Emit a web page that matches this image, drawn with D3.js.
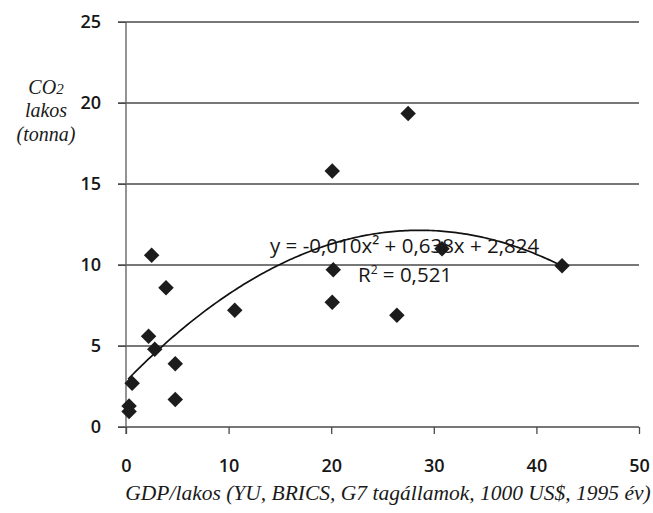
<!DOCTYPE html>
<html>
<head>
<meta charset="utf-8">
<script src="https://cdnjs.cloudflare.com/ajax/libs/d3/7.8.5/d3.min.js"></script>
<style>
  html, body { margin: 0; padding: 0; background: #fff; }
  svg { display: block; }
</style>
</head>
<body>
<script>
// ---- data ----
const gdp = [0.3, 0.3, 0.6, 2.2, 2.8, 2.5, 3.9, 4.8, 4.8, 10.6, 20.1, 20.2, 20.1, 26.4, 27.5, 30.8, 42.5];
const co2 = [0.95, 1.3, 2.7, 5.6, 4.8, 10.6, 8.6, 3.9, 1.7, 7.2, 15.8, 9.7, 7.7, 6.9, 19.35, 11.0, 9.95];
const xTicks = [0, 10, 20, 30, 40, 50];
const yTicks = [0, 5, 10, 15, 20, 25];
// polynomial trendline (as drawn): c0 + c1*x + c2*x^2
const trendCoefs = [2.82, 0.652, -0.0114];
const trendRange = [0.2, 42.5];
const eqLabel = "y = -0,010x² + 0,638x + 2,824";
const r2Label = ["R", "2", " = 0,521"];
const xTitle = "GDP/lakos (YU, BRICS, G7 tagállamok, 1000 US$, 1995 év)";
const yTitleLines = ["lakos", "(tonna)"];

// ---- layout ----
const W = 653, H = 513;
const svg = d3.select("body").append("svg").attr("width", W).attr("height", H);

const x = d3.scaleLinear().domain([0, 50]).range([126, 639]);
const y = d3.scaleLinear().domain([0, 25]).range([427, 22]);

const gridColor = "#4a4a4a";
const labelFont = "'Open Sans', sans-serif";

// horizontal gridlines (extend a little left of the axis)
svg.append("g").selectAll("line").data(yTicks).join("line")
  .attr("x1", x(0) - 8).attr("x2", x(50))
  .attr("y1", d => y(d)).attr("y2", d => y(d))
  .attr("stroke", gridColor).attr("stroke-width", 1.4);

// left axis
const yAxis = d3.axisLeft(y).tickValues(yTicks).tickSize(8).tickPadding(17).tickFormat(d3.format("d"));
const gy = svg.append("g").attr("transform", `translate(${x(0)},0)`).call(yAxis);
gy.select(".domain").attr("stroke", "#666").attr("stroke-width", 1.4).attr("d", `M0,${y(25)}V${y(0)+7}`);
gy.selectAll(".tick line").attr("stroke", gridColor);
gy.selectAll("text").attr("font-family", labelFont).attr("font-size", 18).attr("font-weight", 600).attr("fill", "#161616");

// bottom axis
const xAxis = d3.axisBottom(x).tickValues(xTicks).tickSize(7).tickPadding(25).tickFormat(d3.format("d"));
const gx = svg.append("g").attr("transform", `translate(0,${y(0)})`).call(xAxis);
gx.select(".domain").remove();
gx.selectAll(".tick line").attr("stroke", gridColor).attr("stroke-width", 1.3);
gx.selectAll("text").attr("font-family", labelFont).attr("font-size", 18).attr("font-weight", 600).attr("fill", "#161616");

// trendline
const trendX = d3.range(trendRange[0], trendRange[1] + 0.001, 0.25);
const trend = trendX.map(v => [v, trendCoefs[0] + trendCoefs[1] * v + trendCoefs[2] * v * v]);
svg.append("path")
  .datum(trend)
  .attr("d", d3.line().x(d => x(d[0])).y(d => y(d[1])).curve(d3.curveBasis))
  .attr("fill", "none").attr("stroke", "#111").attr("stroke-width", 1.7);

// points
const pts = gdp.map((g, i) => ({ g, c: co2[i] }));
svg.append("g").selectAll("path").data(pts).join("path")
  .attr("d", d3.symbol(d3.symbolSquare, 120)())
  .attr("transform", d => `translate(${x(d.g)},${y(d.c)}) rotate(45)`)
  .attr("fill", "#1c1c1c");

// equation labels
svg.append("text").attr("x", 270).attr("y", 253)
  .attr("font-family", labelFont).attr("font-size", 20.5).attr("fill", "#161616")
  .text(eqLabel);
const r2 = svg.append("text").attr("x", 358).attr("y", 282)
  .attr("font-family", labelFont).attr("font-size", 20.5).attr("fill", "#161616");
r2.append("tspan").text(r2Label[0]);
r2.append("tspan").attr("font-size", 12).attr("dy", -8).text(r2Label[1]);
r2.append("tspan").attr("dy", 8).text(r2Label[2]);

// axis titles
const serif = "'Liberation Serif', 'Times New Roman', serif";
svg.append("text").attr("x", 388).attr("y", 500).attr("text-anchor", "middle")
  .attr("font-family", serif).attr("font-style", "italic").attr("font-size", 21.5).attr("fill", "#1a1a1a")
  .text(xTitle);

const yt = svg.append("text").attr("x", 46).attr("y", 94).attr("text-anchor", "middle")
  .attr("font-family", serif).attr("font-style", "italic").attr("font-size", 20).attr("fill", "#1a1a1a");
yt.append("tspan").text("CO");
yt.append("tspan").attr("font-size", 15).text("2");
yTitleLines.forEach((t, i) => {
  svg.append("text").attr("x", 46).attr("y", 117 + i * 24).attr("text-anchor", "middle")
    .attr("font-family", serif).attr("font-style", "italic").attr("font-size", 20).attr("fill", "#1a1a1a")
    .text(t);
});
</script>
</body>
</html>
